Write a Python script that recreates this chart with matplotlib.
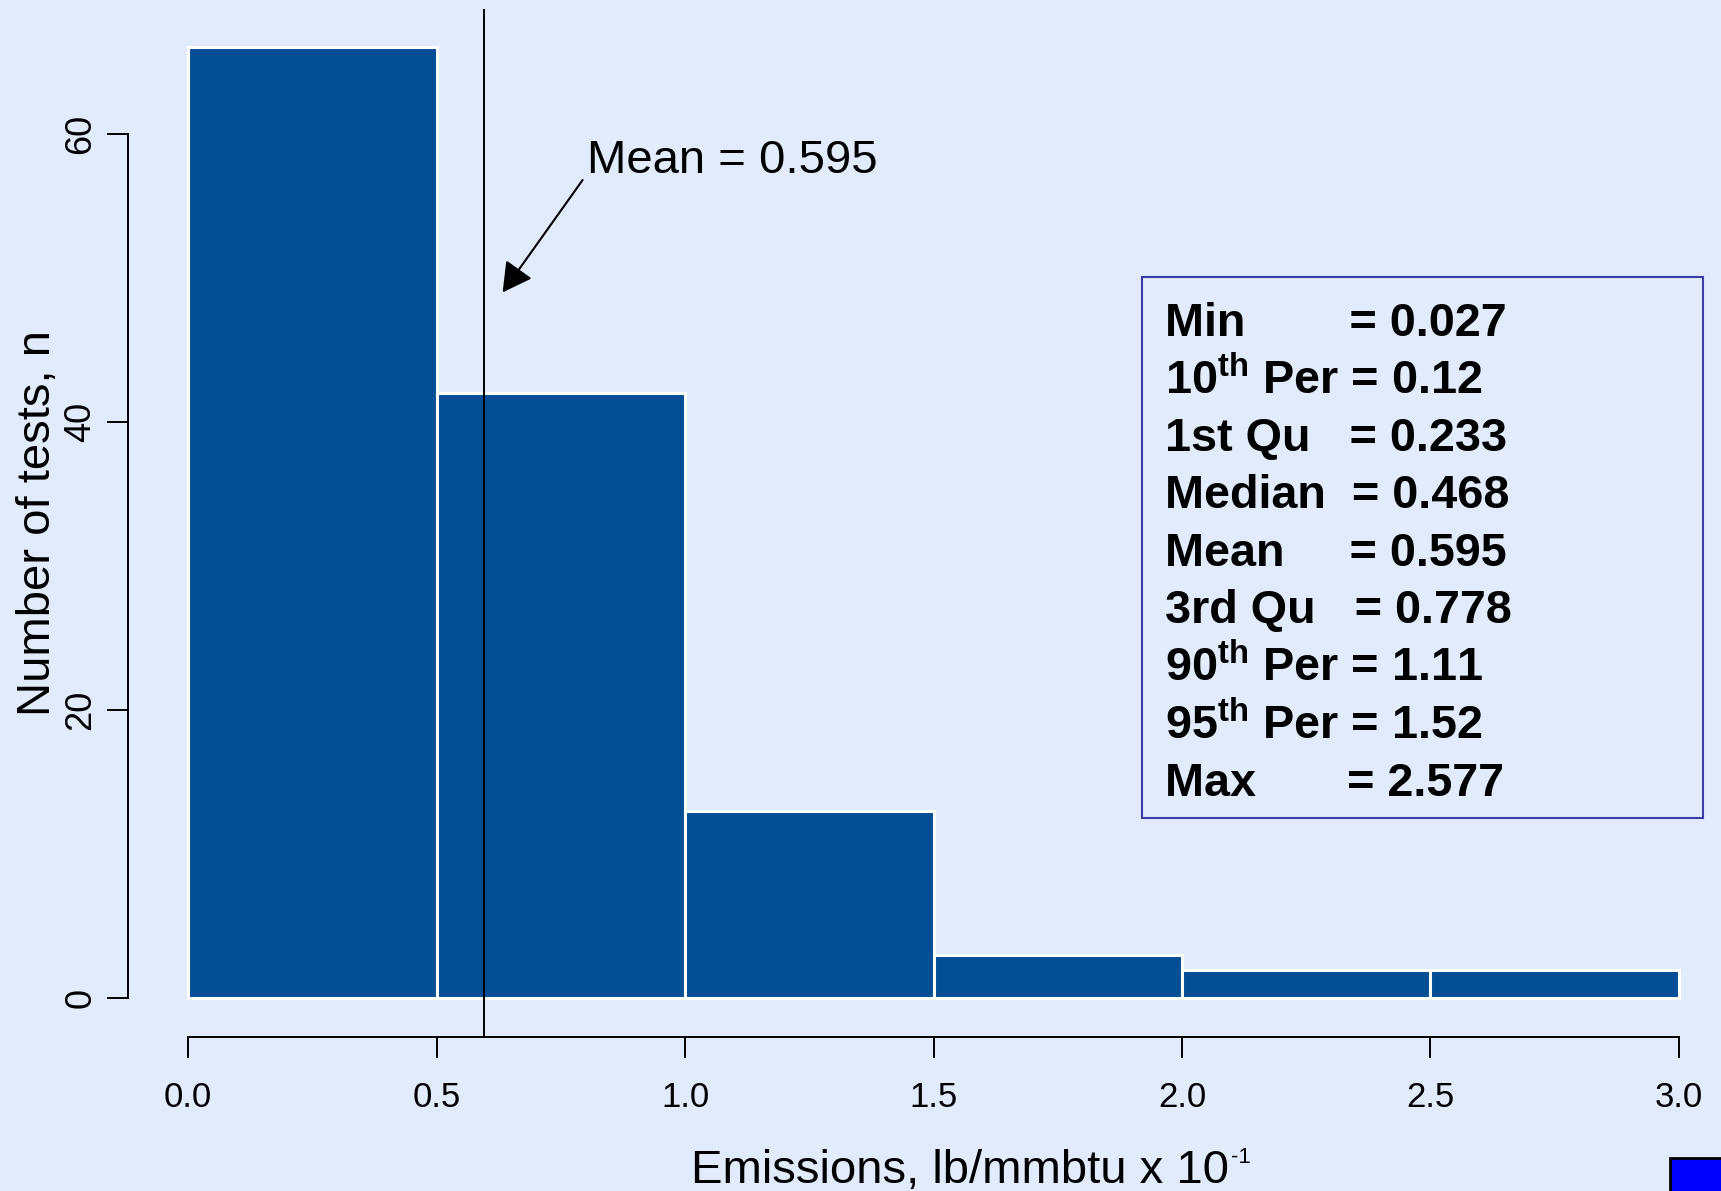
import matplotlib
matplotlib.use('Agg')
import matplotlib.pyplot as plt
from matplotlib.patches import Rectangle

plt.rcParams['font.family'] = ['Liberation Sans', 'DejaVu Sans']
plt.rcParams['mathtext.fontset'] = 'custom'
plt.rcParams['mathtext.rm'] = 'Liberation Sans'
plt.rcParams['mathtext.it'] = 'Liberation Sans:italic'
plt.rcParams['mathtext.bf'] = 'Liberation Sans:bold'

# histogram of emission tests (bin edges and counts)
bin_edges = [0.0, 0.5, 1.0, 1.5, 2.0, 2.5, 3.0]
counts = [66, 42, 13, 3, 2, 2]
mean_value = 0.595

x_ticks = [0.0, 0.5, 1.0, 1.5, 2.0, 2.5, 3.0]
x_ticklabels = ['0.0', '0.5', '1.0', '1.5', '2.0', '2.5', '3.0']
y_ticks = [0, 20, 40, 60]

# summary statistics shown in the box
stat_lines = [
    'Min        = 0.027',
    r'10$^{\mathbf{th}}$ Per = 0.12',
    '1st Qu   = 0.233',
    'Median  = 0.468',
    'Mean     = 0.595',
    '3rd Qu   = 0.778',
    r'90$^{\mathbf{th}}$ Per = 1.11',
    r'95$^{\mathbf{th}}$ Per = 1.52',
    'Max       = 2.577',
]

bg = '#e1ebfb'
bar_color = '#044e96'
W, H = 1721, 1191

fig = plt.figure(figsize=(W / 100, H / 100), dpi=100, facecolor=bg)
ax = fig.add_axes([128.4 / W, (H - 1036.5) / H, 1610.2 / W, 1027.1 / H])
ax.set_facecolor(bg)

widths = [b - a for a, b in zip(bin_edges[:-1], bin_edges[1:])]
ax.bar(bin_edges[:-1], counts, width=widths, align='edge',
       color=bar_color, edgecolor='white', linewidth=2.2, zorder=2)

xmax_count = max(counts)
ax.set_xlim(-0.04 * 3, 3 + 0.04 * 3)
ax.set_ylim(-0.04 * xmax_count, xmax_count * 1.04)

# mean line and its label
ax.axvline(mean_value, color='black', lw=1.4, zorder=3)
ax.text(0.802, 57.3, f'Mean = {mean_value}', fontsize=34, va='baseline', ha='left')
ax.annotate('', xy=(0.633, 49.0), xytext=(0.794, 56.8),
            arrowprops=dict(arrowstyle='-|>,head_length=0.4,head_width=0.22',
                            mutation_scale=45, color='black', lw=1.5,
                            shrinkA=0, shrinkB=0))

# axes in base-graphics style
for s in ['top', 'right']:
    ax.spines[s].set_visible(False)
ax.spines['left'].set_bounds(0, 60)
ax.spines['bottom'].set_bounds(0, 3)
for s in ['left', 'bottom']:
    ax.spines[s].set_linewidth(1.4)
ax.set_xticks(x_ticks)
ax.set_xticklabels(x_ticklabels, fontsize=25)
ax.set_yticks(y_ticks)
ax.set_yticklabels([str(v) for v in y_ticks], fontsize=26, rotation=90, va='center')
ax.tick_params(axis='x', length=15, width=1.4, pad=17)
ax.tick_params(axis='y', length=15, width=1.4, pad=6.5)

# x label with a plain hyphen in the exponent
fig.text(1229 / W, 1 - 1183 / H, 'Emissions, lb/mmbtu x 10',
         fontsize=34, ha='right', va='baseline')
fig.text(1231 / W, 1 - 1163 / H, '-1', fontsize=16, ha='left', va='baseline')
fig.text(38 / W, 1 - 523.5 / H, 'Number of tests, n', fontsize=34,
         rotation=90, ha='center', va='center')

# statistics box
fig.add_artist(Rectangle((1142 / W, 1 - 818 / H), 561 / W, 541 / H,
                         transform=fig.transFigure, facecolor='none',
                         edgecolor='#3c3ca6', lw=1.5))
for i, line in enumerate(stat_lines):
    fig.text(1165 / W, 1 - (336 + 57.5 * i) / H, line, fontsize=33.7,
             fontweight='bold', ha='left', va='baseline')

# small blue marker in the corner
fig.add_artist(Rectangle((1670 / W, 1 - 1200 / H), 60 / W, 42 / H,
                         transform=fig.transFigure, facecolor='#0000ff',
                         edgecolor='black', lw=2))

fig.savefig('out.png', dpi=100, facecolor=bg)
